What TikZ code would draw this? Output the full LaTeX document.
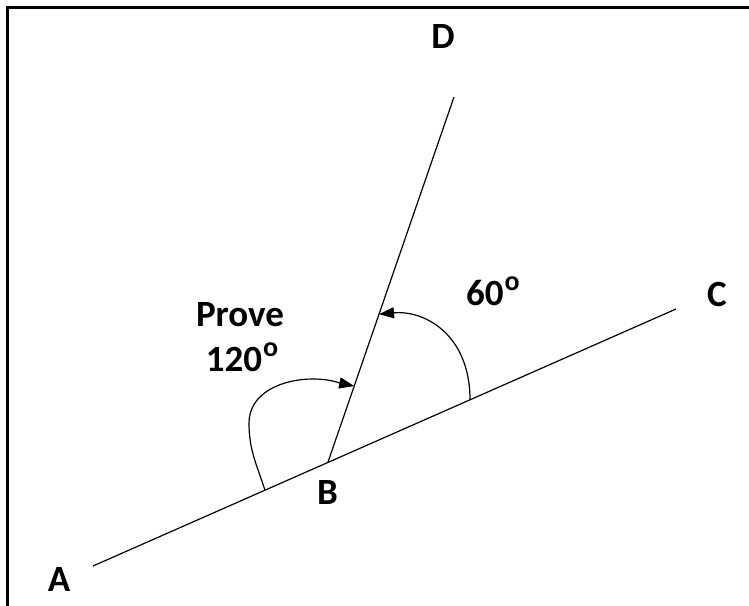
\documentclass[tikz,border=0pt]{standalone}
\usepackage{fontspec}
\setmainfont{Carlito}
\usetikzlibrary{arrows.meta,calc}
\newcommand{\degsup}{\kern1pt\raisebox{15pt}{\fontsize{28}{28}\selectfont o}}
\tikzset{
  lbl/.style={font=\fontsize{37}{39}\selectfont\bfseries, inner sep=0pt, anchor=base},
  seg/.style={line width=1.2pt, black},
  arc/.style={line width=1.2pt, black, -{Triangle[length=15pt,width=11pt]}},
  frame/.style={line width=3pt, black}
}
\begin{document}
\begin{tikzpicture}[x=1pt,y=1pt]
\useasboundingbox (0,0) rectangle (749,605);
% frame (top and left sides)
\coordinate (f1) at (7,-5);
\coordinate (f2) at (7,597.5);
\coordinate (f3) at (760,597.5);
\draw[frame] (f1) -- (f2) -- (f3);
% points
\coordinate (A) at (93,39);
\coordinate (C) at (676,296);
\coordinate (B) at (328,143);
\coordinate (D) at (454,508);
\draw[seg] (A) -- (C);
\draw[seg] (B) -- (D);
% 60 degree arc
\coordinate (s60) at ($(A)!0.6467!(C)$);
\coordinate (t60) at ($(B)!0.405!(D)$);
\draw[arc] (s60) .. controls (470,270) and (425,295) .. (t60);
% 120 degree arc
\coordinate (s120) at ($(A)!0.295!(C)$);
\coordinate (t120) at ($(B)!0.208!(D)$);
\coordinate (m1) at (249,182);
\coordinate (m2) at (313,226);
\draw[arc] (s120) to[out=108,in=-90] (m1) to[out=90,in=180] (m2) to[out=0,in=168] (t120);
% labels
\node[lbl] (lA) at (59,14) {A};
\node[lbl] (lB) at (327.5,100) {B};
\node[lbl] (lC) at (717,298) {C};
\node[lbl] (lD) at (443,556) {D};
\node[lbl] (lP) at (240,278) {Prove};
\node[lbl] (l120) at (242,233) {120\degsup};
\node[lbl] (l60) at (493,299) {60\degsup};
\end{tikzpicture}
\end{document}
